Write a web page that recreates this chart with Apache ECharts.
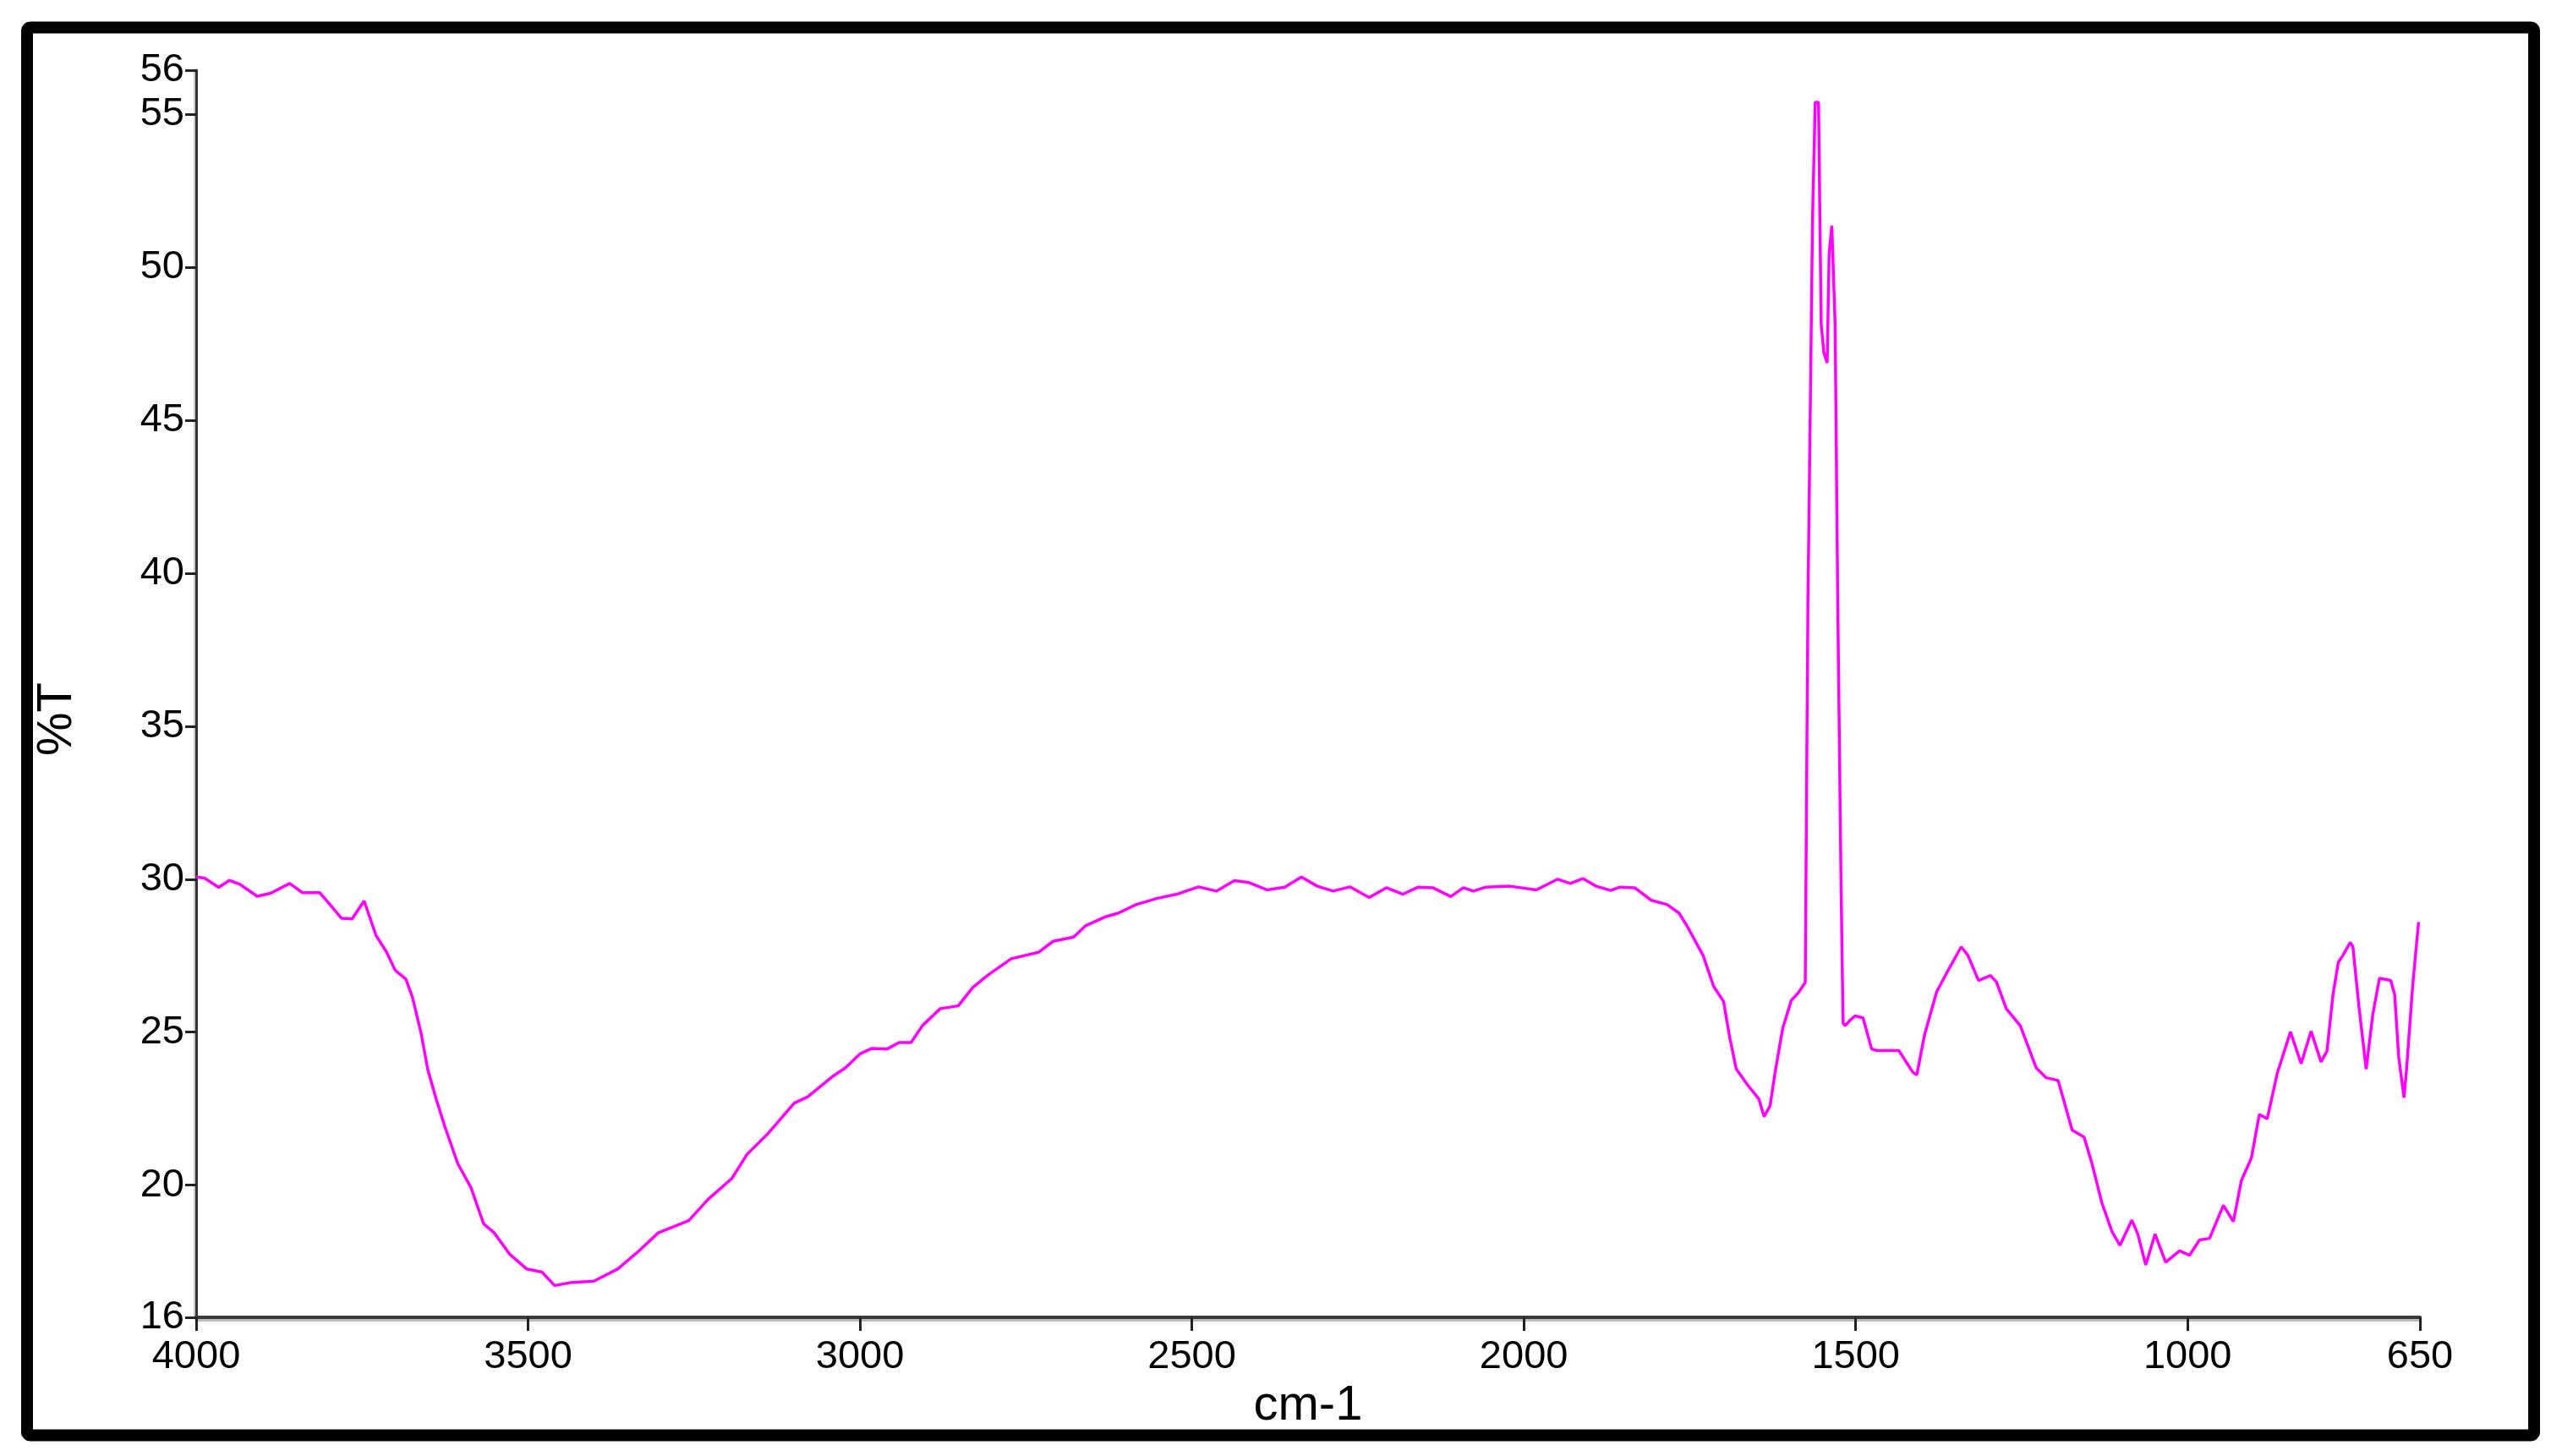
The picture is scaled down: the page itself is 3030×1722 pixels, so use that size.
<!DOCTYPE html>
<html>
<head>
<meta charset="utf-8">
<title>FTIR %T</title>
<script src="https://cdn.jsdelivr.net/npm/echarts@6/dist/echarts.min.js"></script>
<style>
  html, body { margin: 0; padding: 0; background: #fff; }
  #chart { width: 3030px; height: 1722px; }
</style>
</head>
<body>
<div id="chart"></div>
<script>
var wavenumber = [
  4000, 3987, 3966, 3950, 3934, 3908, 3888, 3859, 3840, 3814, 3801, 3781, 3765, 3747, 3729,
  3713, 3700, 3684, 3674, 3661, 3651, 3638, 3625, 3606, 3586, 3567, 3551, 3528, 3502, 3479,
  3460, 3437, 3401, 3365, 3333, 3304, 3258, 3229, 3193, 3170, 3138, 3099, 3079, 3040, 3022,
  3000, 2982, 2959, 2941, 2923, 2906, 2879, 2852, 2830, 2807, 2772, 2731, 2709, 2678, 2660,
  2629, 2611, 2584, 2553, 2521, 2490, 2463, 2436, 2414, 2387, 2360, 2335, 2311, 2287, 2262,
  2233, 2207, 2182, 2159, 2137, 2110, 2091, 2076, 2057, 2021, 1981, 1949, 1930, 1911, 1891,
  1869, 1855, 1833, 1808, 1784, 1766, 1753, 1730, 1714, 1699, 1690, 1680, 1663, 1646, 1638,
  1629, 1621, 1610, 1597, 1587, 1576, 1572, 1565, 1561, 1556, 1552, 1548, 1543, 1540, 1536,
  1531, 1527, 1522, 1519, 1516, 1508, 1501, 1489, 1476, 1468, 1435, 1414, 1408, 1396, 1378,
  1360, 1341, 1331, 1315, 1297, 1288, 1273, 1252, 1228, 1213, 1195, 1186, 1174, 1156, 1144,
  1129, 1114, 1102, 1084, 1075, 1063, 1049, 1033, 1012, 997, 982, 967, 946, 931, 919,
  904, 892, 880, 865, 845, 829, 814, 799, 790, 781, 773, 766, 755, 751, 742,
  731, 721, 711, 694, 688, 682, 674, 670, 661, 652
];

// transmittance (%T) at each wavenumber above
var transmittance = [
  30.08, 30.03, 29.73, 29.96, 29.83, 29.44, 29.54, 29.86, 29.56, 29.56, 29.24, 28.72, 28.70, 29.29, 28.16,
  27.61, 27.02, 26.73, 26.13, 24.95, 23.77, 22.78, 21.89, 20.71, 19.92, 18.74, 18.44, 17.75, 17.26, 17.16,
  16.72, 16.81, 16.86, 17.26, 17.85, 18.44, 18.84, 19.53, 20.22, 21.01, 21.70, 22.68, 22.88, 23.57, 23.83,
  24.29, 24.47, 24.45, 24.66, 24.66, 25.21, 25.77, 25.86, 26.46, 26.87, 27.40, 27.61, 27.97, 28.11, 28.48,
  28.78, 28.89, 29.17, 29.37, 29.52, 29.75, 29.61, 29.95, 29.89, 29.65, 29.74, 30.07, 29.77, 29.61, 29.75,
  29.40, 29.72, 29.51, 29.74, 29.72, 29.43, 29.72, 29.61, 29.74, 29.77, 29.65, 30.00, 29.86, 30.02, 29.77,
  29.63, 29.74, 29.72, 29.31, 29.17, 28.89, 28.43, 27.51, 26.50, 26.00, 24.85, 23.80, 23.28, 22.82, 22.24,
  22.59, 23.74, 25.12, 26.04, 26.27, 26.62, 38.93, 51.60, 55.39, 55.39, 48.14, 47.22, 46.87, 50.44, 51.36,
  48.14, 38.93, 29.72, 25.30, 25.21, 25.40, 25.53, 25.47, 24.45, 24.40, 24.40, 23.69, 23.60, 24.94, 26.32,
  27.05, 27.79, 27.51, 26.69, 26.85, 26.64, 25.76, 25.21, 23.83, 23.51, 23.42, 22.73, 21.80, 21.57, 20.70,
  19.41, 18.49, 18.03, 18.86, 18.40, 17.39, 18.40, 17.48, 17.85, 17.71, 18.21, 18.26, 19.34, 18.81, 20.15,
  20.88, 22.31, 22.17, 23.65, 25.01, 23.97, 25.03, 24.03, 24.38, 26.22, 27.28, 27.51, 27.93, 27.79, 25.86,
  23.79, 25.58, 26.76, 26.69, 26.22, 24.20, 22.86, 23.83, 26.50, 28.60
];

// axis ranges and tick positions (end ticks are labelled rounded: 16 and 56)
var xMin = 650, xMax = 4000;
var xTicks = [650, 1000, 1500, 2000, 2500, 3000, 3500, 4000];
var yMin = 15.68, yMax = 56.44;
var yTicks = [15.68, 20, 25, 30, 35, 40, 45, 50, 55, 56.44];

var FONT = "'Liberation Sans', Arial, sans-serif";

var seriesData = [];
for (var i = 0; i < wavenumber.length; i++) {
  seriesData.push([wavenumber[i], transmittance[i]]);
}

var myChart = echarts.init(document.getElementById('chart'));

myChart.setOption({
  backgroundColor: '#ffffff',
  animation: false,
  grid: {
    left: 232,
    right: 168,
    top: 83,
    bottom: 164,
    containLabel: false,
    outerBoundsMode: 'none'
  },
  xAxis: {
    type: 'value',
    inverse: true,
    min: xMin,
    max: xMax,
    name: 'cm-1',
    nameLocation: 'middle',
    nameGap: 72,
    nameTextStyle: { fontFamily: FONT, fontSize: 58, color: '#000' },
    axisLine: {
      onZero: false,
      lineStyle: { color: '#3a3a3a', width: 4, shadowColor: '#bdbdbd', shadowOffsetY: 3 }
    },
    axisTick: {
      show: true,
      inside: false,
      length: 16,
      customValues: xTicks,
      lineStyle: { color: '#222', width: 3 }
    },
    axisLabel: {
      customValues: xTicks,
      margin: 24,
      fontFamily: FONT,
      fontSize: 47,
      color: '#000',
      hideOverlap: false,
      formatter: function (v) { return String(v); }
    },
    splitLine: { show: false }
  },
  yAxis: {
    type: 'value',
    min: yMin,
    max: yMax,
    name: '%T',
    nameLocation: 'middle',
    nameGap: 135,
    nameTextStyle: { fontFamily: FONT, fontSize: 58, color: '#000', padding: [0, 60, 0, 0] },
    axisLine: {
      show: true,
      onZero: false,
      lineStyle: { color: '#333', width: 3, shadowColor: '#c8c8c8', shadowOffsetX: -2 }
    },
    axisTick: {
      show: true,
      inside: false,
      length: 13,
      customValues: yTicks,
      lineStyle: { color: '#222', width: 3 }
    },
    axisLabel: {
      customValues: yTicks,
      margin: 14,
      fontFamily: FONT,
      fontSize: 47,
      color: '#000',
      formatter: function (v) { return Math.round(v); }
    },
    splitLine: { show: false }
  },
  series: [{
    type: 'line',
    data: seriesData,
    showSymbol: false,
    smooth: false,
    sampling: null,
    lineStyle: { color: '#ff00ff', width: 3.5 },
    clip: true
  }],
  graphic: [{
    // thick black frame around the whole figure
    type: 'rect',
    z: 100,
    silent: true,
    shape: { x: 32, y: 32.5, width: 2965, height: 1665, r: 4 },
    style: { fill: null, stroke: '#000', lineWidth: 14 }
  }]
});
</script>
</body>
</html>
